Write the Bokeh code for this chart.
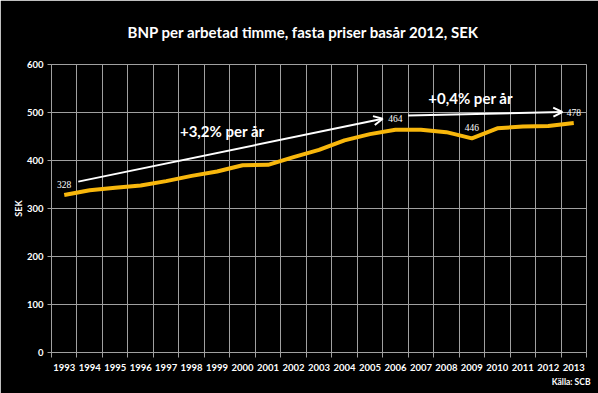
from bokeh.plotting import figure
from bokeh.models import (ColumnDataSource, FixedTicker, Label, LabelSet, Arrow, OpenHead, Range1d, Title)
from bokeh.embed import file_html
from bokeh.resources import INLINE

# ---- data ----
years = list(range(1993, 2014))
bnp = [328, 338, 343, 348, 357, 368, 377, 390, 391, 407, 422,
       442, 455, 464, 464, 459, 446, 467, 471, 472, 478]
labeled_years = [1993, 2006, 2009, 2013]
y_ticks = [0, 100, 200, 300, 400, 500, 600]
title_text = "BNP per arbetad timme, fasta priser basår 2012, SEK"
y_label = "SEK"
growth_1 = "+3,2% per år"
growth_2 = "+0,4% per år"
source_text = "Källa: SCB"

FONT = "Lato"
GRID = "#a0a0a0"

p = figure(width=598, height=393, output_backend="svg", toolbar_location=None,
           x_range=Range1d(years[0] - 0.5, years[-1] + 0.5), y_range=Range1d(0, 600),
           min_border_left=51, min_border_right=12, min_border_top=64, min_border_bottom=41)
p.background_fill_color = "black"
p.border_fill_color = "black"
p.outline_line_color = GRID
p.outline_line_width = 1

boundaries = [y - 0.5 for y in years] + [years[-1] + 0.5]
p.xaxis.ticker = FixedTicker(ticks=years, minor_ticks=boundaries)
p.xgrid.ticker = FixedTicker(ticks=boundaries)
p.yaxis.ticker = FixedTicker(ticks=y_ticks)
p.ygrid.ticker = FixedTicker(ticks=y_ticks)
for g in (p.xgrid, p.ygrid):
    g.grid_line_color = GRID
    g.grid_line_width = 1

for ax in (p.xaxis, p.yaxis):
    ax.axis_line_color = GRID
    ax.major_tick_line_color = GRID
    ax.minor_tick_line_color = GRID
    ax.major_label_text_color = "white"
    ax.major_label_text_font = FONT
    ax.major_label_text_font_style = "bold"
    ax.major_label_text_font_size = "9.5px"
    ax.major_tick_in = 0
    ax.minor_tick_in = 0
p.xaxis.major_tick_out = 0
p.xaxis.minor_tick_out = 5
p.xaxis.major_label_standoff = 6
p.yaxis.major_tick_out = 4
p.yaxis.minor_tick_out = 0
p.yaxis.major_label_standoff = 4
p.yaxis.axis_label = y_label
p.yaxis.axis_label_text_color = "white"
p.yaxis.axis_label_text_font = FONT
p.yaxis.axis_label_text_font_style = "bold"
p.yaxis.axis_label_text_font_size = "9px"
p.yaxis.axis_label_standoff = 0

src = ColumnDataSource(dict(x=years, y=bnp))
p.line("x", "y", source=src, line_color="#F8B70C", line_width=4)

lab = {"x": [], "y": [], "t": []}
for yr in labeled_years:
    v = bnp[years.index(yr)]
    lab["x"].append(yr); lab["y"].append(v); lab["t"].append(str(v))
p.add_layout(LabelSet(x="x", y="y", text="t", source=ColumnDataSource(lab),
                      y_offset=11, text_align="center", text_baseline="middle",
                      text_color="white", text_font=FONT, text_font_size="9.5px"))

# trend arrows
p.add_layout(Arrow(end=OpenHead(size=9, line_color="white", line_width=2),
                   x_start=1993.55, y_start=356, x_end=2005.5, y_end=487,
                   line_color="white", line_width=2))
p.add_layout(Arrow(end=OpenHead(size=9, line_color="white", line_width=2),
                   x_start=2006.5, y_start=494, x_end=2012.55, y_end=501,
                   line_color="white", line_width=2))

p.add_layout(Label(x=1999.2, y=462, text=growth_1, text_align="center", text_baseline="middle",
                   text_color="white", text_font=FONT, text_font_style="bold", text_font_size="15px"))
p.add_layout(Label(x=2008.95, y=531, text=growth_2, text_align="center", text_baseline="middle",
                   text_color="white", text_font=FONT, text_font_style="bold", text_font_size="15px"))

p.add_layout(Title(text=title_text, align="left", offset=76, standoff=44, vertical_align="top",
                   text_color="white", text_font=FONT, text_font_style="bold",
                   text_font_size="15px"), "above")
p.add_layout(Title(text=source_text, align="right", offset=-4, standoff=2,
                   text_color="white", text_font=FONT, text_font_style="bold",
                   text_font_size="8.5px"), "below")

open("out.html", "w").write(file_html(p, INLINE))
